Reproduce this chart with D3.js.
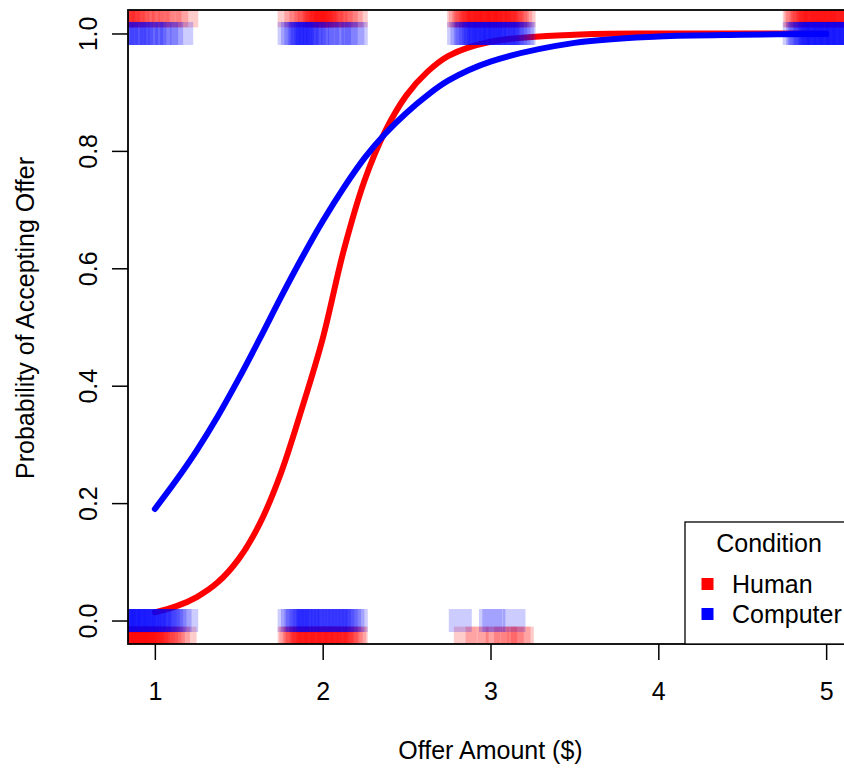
<!DOCTYPE html>
<html>
<head>
<meta charset="utf-8">
<script src="https://cdn.jsdelivr.net/npm/d3@7"></script>
<style>
  body { margin: 0; background: #fff; }
  svg { display: block; font-family: "Liberation Sans", Arial, sans-serif; }
</style>
</head>
<body>
<div id="chart"></div>
<script>
// fitted curves
const curveX = [1, 1.125, 1.25, 1.375, 1.5, 1.625, 1.75, 1.875, 2, 2.125, 2.25, 2.375, 2.5, 2.625, 2.75, 3, 3.5, 4, 4.5, 5];
const humanFit = [0.014, 0.024, 0.04, 0.065, 0.105, 0.165, 0.25, 0.36, 0.48, 0.63, 0.75, 0.835, 0.895, 0.935, 0.962, 0.986, 0.998, 1.0, 1.0, 1.0];
const computerFit = [0.19, 0.238, 0.29, 0.348, 0.412, 0.48, 0.55, 0.617, 0.68, 0.737, 0.788, 0.83, 0.865, 0.895, 0.92, 0.952, 0.984, 0.995, 0.998, 0.999];

// jittered offers, by condition and response (1 = accepted, 0 = rejected)
const humanAcceptX = [
  0.81, 0.82, 0.84, 0.85, 0.87, 0.88, 0.9, 0.93, 0.96, 0.99, 1.02, 1.05, 1.09, 1.13, 1.19,
  1.8, 1.84, 1.87, 1.9, 1.92, 1.94, 1.95, 1.96, 1.97, 1.98, 1.99, 2.0, 2.01, 2.02, 2.03, 2.05, 2.06, 2.08, 2.11, 2.14, 2.17, 2.2,
  2.81, 2.82, 2.84, 2.85, 2.86, 2.88, 2.89, 2.9, 2.92, 2.93, 2.94, 2.96, 2.97, 2.98, 2.99, 3.0, 3.01, 3.03, 3.04, 3.05, 3.06, 3.08, 3.09, 3.1, 3.12, 3.13, 3.15, 3.16, 3.18, 3.2,
  4.81, 4.82, 4.83, 4.85, 4.86, 4.87, 4.89, 4.9, 4.91, 4.93, 4.94, 4.95, 4.97, 4.98, 4.99, 5.0, 5.01, 5.03, 5.04, 5.05, 5.07, 5.08, 5.09, 5.11, 5.12, 5.14, 5.15, 5.17, 5.18, 5.2
];
const humanRejectX = [
  0.8, 0.81, 0.82, 0.83, 0.84, 0.85, 0.86, 0.87, 0.88, 0.89, 0.9, 0.91, 0.92, 0.93, 0.94, 0.95, 0.96, 0.97, 0.98, 0.99, 1.0, 1.01, 1.02, 1.04, 1.05, 1.07, 1.09, 1.11, 1.14, 1.18,
  1.8, 1.81, 1.83, 1.84, 1.85, 1.87, 1.88, 1.89, 1.91, 1.92, 1.93, 1.95, 1.96, 1.97, 1.99, 2.0, 2.01, 2.03, 2.04, 2.05, 2.07, 2.08, 2.09, 2.11, 2.12, 2.14, 2.15, 2.17, 2.19, 2.2,
  2.85, 2.92, 2.99, 3.04, 3.09, 3.13, 3.17, 3.19
];
const computerAcceptX = [
  0.81, 0.83, 0.86, 0.88, 0.9, 0.92, 0.95, 0.98, 1.0, 1.03, 1.07, 1.1, 1.16,
  1.8, 1.82, 1.84, 1.86, 1.87, 1.88, 1.9, 1.91, 1.93, 1.95, 1.97, 2.0, 2.03, 2.06, 2.1, 2.14, 2.18, 2.2,
  2.81, 2.83, 2.85, 2.86, 2.88, 2.9, 2.91, 2.93, 2.94, 2.96, 2.97, 2.99, 3.0, 3.02, 3.03, 3.05, 3.06, 3.08, 3.1, 3.11, 3.13, 3.15, 3.17, 3.19, 3.2,
  4.81, 4.83, 4.84, 4.85, 4.87, 4.88, 4.9, 4.91, 4.92, 4.94, 4.95, 4.96, 4.98, 4.99, 5.0, 5.02, 5.03, 5.04, 5.06, 5.07, 5.08, 5.1, 5.11, 5.13, 5.14, 5.16, 5.17, 5.19
];
const computerRejectX = [
  0.8, 0.81, 0.82, 0.84, 0.85, 0.86, 0.88, 0.89, 0.9, 0.92, 0.93, 0.94, 0.96, 0.97, 0.99, 1.0, 1.02, 1.03, 1.05, 1.06, 1.08, 1.1, 1.12, 1.15, 1.19,
  1.8, 1.82, 1.84, 1.85, 1.87, 1.89, 1.91, 1.92, 1.94, 1.96, 1.98, 2.0, 2.02, 2.04, 2.06, 2.08, 2.1, 2.12, 2.14, 2.16, 2.18, 2.2,
  2.82, 3.0, 3.02, 3.14
];

const xTicks = [1, 2, 3, 4, 5];
const yTicks = [0, 0.2, 0.4, 0.6, 0.8, 1.0];
const legendLabels = ['Human', 'Computer'];
const colors = {Human: '#ff0000', Computer: '#0000ff'};

const width = 844, height = 771;
const margin = {top: 10, left: 128, bottom: 127};
const fontSize = 25;

const svg = d3.select('#chart')
    .append('svg')
    .attr('width', width)
    .attr('height', height);

const x = d3.scaleLinear()
    .domain([0.84, 5.16])
    .range([margin.left, 853]);

const y = d3.scaleLinear()
    .domain([-0.04, 1.04])
    .range([height - margin.bottom, margin.top]);

const plotTop = y(1.04), plotBottom = y(-0.04);
const plotLeft = x(0.84), plotRight = x(5.16);

svg.append('clipPath')
    .attr('id', 'plot-clip')
    .append('rect')
    .attr('x', plotLeft)
    .attr('y', plotTop)
    .attr('width', plotRight - plotLeft)
    .attr('height', plotBottom - plotTop);

const plot = svg.append('g').attr('clip-path', 'url(#plot-clip)');

// fitted curves go under the points
const line = d3.line()
    .x(d => x(d[0]))
    .y(d => y(d[1]))
    .curve(d3.curveCatmullRom.alpha(0.5));

[['Human', humanFit], ['Computer', computerFit]].forEach(([name, fit]) => {
    plot.append('path')
        .datum(curveX.map((v, i) => [v, fit[i]]))
        .attr('d', line)
        .attr('fill', 'none')
        .attr('stroke', colors[name])
        .attr('stroke-width', 6)
        .attr('stroke-linecap', 'round');
});

// jittered responses, human nudged outward a little
const sq = 23;
function drawPoints(xs, resp, name, nudge) {
    plot.append('g')
        .selectAll('rect')
        .data(xs)
        .enter().append('rect')
        .attr('x', d => x(d) - sq / 2)
        .attr('y', () => y(resp + (resp === 1 ? nudge : -nudge)) - sq / 2)
        .attr('width', sq)
        .attr('height', sq)
        .attr('fill', colors[name])
        .attr('fill-opacity', 0.2);
}
drawPoints(humanAcceptX, 1, 'Human', 0.03);
drawPoints(humanRejectX, 0, 'Human', 0.03);
drawPoints(computerAcceptX, 1, 'Computer', 0);
drawPoints(computerRejectX, 0, 'Computer', 0);

// box
svg.append('rect')
    .attr('x', plotLeft)
    .attr('y', plotTop)
    .attr('width', plotRight - plotLeft)
    .attr('height', plotBottom - plotTop)
    .attr('fill', 'none')
    .attr('stroke', '#000')
    .attr('stroke-width', 1.8);

// axes
const xAxis = svg.append('g')
    .attr('transform', `translate(0,${plotBottom})`)
    .call(d3.axisBottom(x).tickValues(xTicks).tickFormat(d3.format('d')).tickSize(16).tickPadding(22));
xAxis.select('.domain').remove();
xAxis.selectAll('line').attr('stroke-width', 1.5);
xAxis.selectAll('text').attr('font-size', fontSize).attr('font-family', null).attr('fill', '#000');

const yAxis = svg.append('g')
    .attr('transform', `translate(${plotLeft},0)`)
    .call(d3.axisLeft(y).tickValues(yTicks).tickFormat(d3.format('.1f')).tickSize(16));
yAxis.select('.domain').remove();
yAxis.selectAll('line').attr('stroke-width', 1.5);
yAxis.selectAll('text')
    .attr('x', null)
    .attr('dy', null)
    .attr('transform', 'translate(-31,0) rotate(-90)')
    .attr('text-anchor', 'middle')
    .attr('font-size', fontSize)
    .attr('font-family', null)
    .attr('fill', '#000');

// axis titles
svg.append('text')
    .attr('x', (plotLeft + plotRight) / 2)
    .attr('y', 759)
    .attr('text-anchor', 'middle')
    .attr('font-size', fontSize)
    .text('Offer Amount ($)');

svg.append('text')
    .attr('transform', 'translate(34,318) rotate(-90)')
    .attr('text-anchor', 'middle')
    .attr('font-size', fontSize)
    .text('Probability of Accepting Offer');

// legend, bottom right
const legend = svg.append('g');
legend.append('rect')
    .attr('x', 685)
    .attr('y', 522)
    .attr('width', plotRight - 685)
    .attr('height', plotBottom - 522)
    .attr('fill', '#fff')
    .attr('stroke', '#000')
    .attr('stroke-width', 1.3);

legend.append('text')
    .attr('x', 769)
    .attr('y', 552)
    .attr('text-anchor', 'middle')
    .attr('font-size', fontSize)
    .text('Condition');

legendLabels.forEach((name, i) => {
    const cy = 584 + i * 30;
    legend.append('rect')
        .attr('x', 701.5)
        .attr('y', cy - 6)
        .attr('width', 12)
        .attr('height', 12)
        .attr('fill', colors[name]);
    legend.append('text')
        .attr('x', 732)
        .attr('y', cy + 9)
        .attr('font-size', fontSize)
        .text(name);
});
</script>
</body>
</html>
